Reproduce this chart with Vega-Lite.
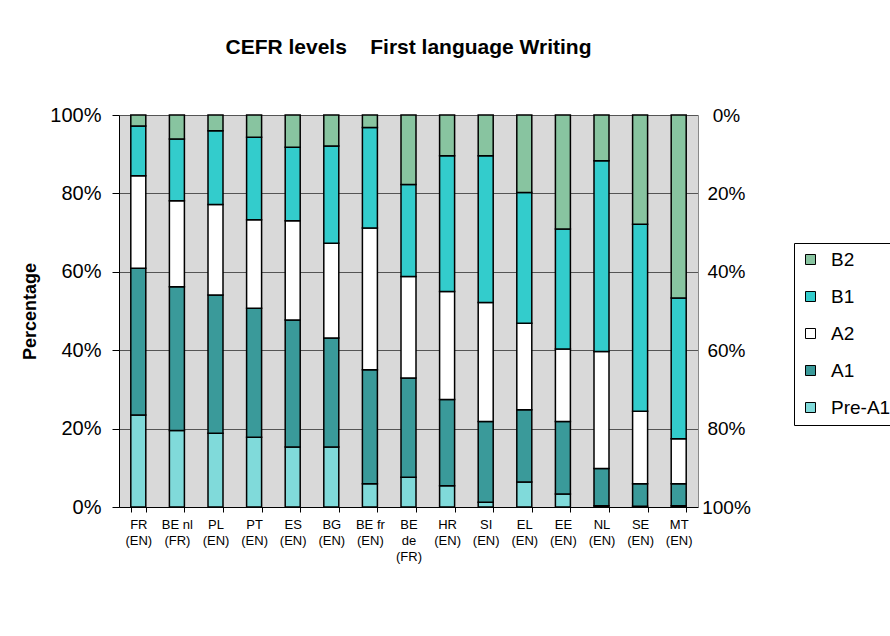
{
  "$schema": "https://vega.github.io/schema/vega-lite/v6.json",
  "autosize": {"type": "none"},
  "width": 579,
  "height": 392,
  "padding": {"left": 119, "top": 115, "right": 192, "bottom": 129},
  "background": "white",
  "config": {
    "view": {"fill": "#d9d9d9", "stroke": null},
    "font": "Liberation Sans"
  },
  "title": {
    "text": "CEFR levels\u00a0\u00a0\u00a0\u00a0First language Writing",
    "fontSize": 21,
    "fontWeight": "bold",
    "font": "Liberation Sans",
    "color": "black",
    "anchor": "middle",
    "baseline": "alphabetic",
    "offset": 30
  },
  "data": {
    "values": [
      {"c": "FR (EN)", "level": "Pre-A1", "v": 23.5},
      {"c": "FR (EN)", "level": "A1", "v": 37.4},
      {"c": "FR (EN)", "level": "A2", "v": 23.6},
      {"c": "FR (EN)", "level": "B1", "v": 12.7},
      {"c": "FR (EN)", "level": "B2", "v": 2.8},
      {"c": "BE nl (FR)", "level": "Pre-A1", "v": 19.5},
      {"c": "BE nl (FR)", "level": "A1", "v": 36.7},
      {"c": "BE nl (FR)", "level": "A2", "v": 21.9},
      {"c": "BE nl (FR)", "level": "B1", "v": 15.8},
      {"c": "BE nl (FR)", "level": "B2", "v": 6.1},
      {"c": "PL (EN)", "level": "Pre-A1", "v": 18.8},
      {"c": "PL (EN)", "level": "A1", "v": 35.3},
      {"c": "PL (EN)", "level": "A2", "v": 23.1},
      {"c": "PL (EN)", "level": "B1", "v": 18.8},
      {"c": "PL (EN)", "level": "B2", "v": 4.0},
      {"c": "PT (EN)", "level": "Pre-A1", "v": 17.8},
      {"c": "PT (EN)", "level": "A1", "v": 32.9},
      {"c": "PT (EN)", "level": "A2", "v": 22.6},
      {"c": "PT (EN)", "level": "B1", "v": 21.0},
      {"c": "PT (EN)", "level": "B2", "v": 5.7},
      {"c": "ES (EN)", "level": "Pre-A1", "v": 15.3},
      {"c": "ES (EN)", "level": "A1", "v": 32.4},
      {"c": "ES (EN)", "level": "A2", "v": 25.3},
      {"c": "ES (EN)", "level": "B1", "v": 18.8},
      {"c": "ES (EN)", "level": "B2", "v": 8.2},
      {"c": "BG (EN)", "level": "Pre-A1", "v": 15.3},
      {"c": "BG (EN)", "level": "A1", "v": 27.8},
      {"c": "BG (EN)", "level": "A2", "v": 24.2},
      {"c": "BG (EN)", "level": "B1", "v": 24.8},
      {"c": "BG (EN)", "level": "B2", "v": 7.9},
      {"c": "BE fr (EN)", "level": "Pre-A1", "v": 5.9},
      {"c": "BE fr (EN)", "level": "A1", "v": 29.1},
      {"c": "BE fr (EN)", "level": "A2", "v": 36.2},
      {"c": "BE fr (EN)", "level": "B1", "v": 25.6},
      {"c": "BE fr (EN)", "level": "B2", "v": 3.2},
      {"c": "BE de (FR)", "level": "Pre-A1", "v": 7.6},
      {"c": "BE de (FR)", "level": "A1", "v": 25.3},
      {"c": "BE de (FR)", "level": "A2", "v": 25.9},
      {"c": "BE de (FR)", "level": "B1", "v": 23.5},
      {"c": "BE de (FR)", "level": "B2", "v": 17.7},
      {"c": "HR (EN)", "level": "Pre-A1", "v": 5.4},
      {"c": "HR (EN)", "level": "A1", "v": 22.0},
      {"c": "HR (EN)", "level": "A2", "v": 27.6},
      {"c": "HR (EN)", "level": "B1", "v": 34.6},
      {"c": "HR (EN)", "level": "B2", "v": 10.4},
      {"c": "SI (EN)", "level": "Pre-A1", "v": 1.2},
      {"c": "SI (EN)", "level": "A1", "v": 20.6},
      {"c": "SI (EN)", "level": "A2", "v": 30.4},
      {"c": "SI (EN)", "level": "B1", "v": 37.4},
      {"c": "SI (EN)", "level": "B2", "v": 10.4},
      {"c": "EL (EN)", "level": "Pre-A1", "v": 6.4},
      {"c": "EL (EN)", "level": "A1", "v": 18.4},
      {"c": "EL (EN)", "level": "A2", "v": 22.1},
      {"c": "EL (EN)", "level": "B1", "v": 33.3},
      {"c": "EL (EN)", "level": "B2", "v": 19.8},
      {"c": "EE (EN)", "level": "Pre-A1", "v": 3.3},
      {"c": "EE (EN)", "level": "A1", "v": 18.5},
      {"c": "EE (EN)", "level": "A2", "v": 18.5},
      {"c": "EE (EN)", "level": "B1", "v": 30.6},
      {"c": "EE (EN)", "level": "B2", "v": 29.1},
      {"c": "NL (EN)", "level": "Pre-A1", "v": 0.3},
      {"c": "NL (EN)", "level": "A1", "v": 9.5},
      {"c": "NL (EN)", "level": "A2", "v": 29.9},
      {"c": "NL (EN)", "level": "B1", "v": 48.6},
      {"c": "NL (EN)", "level": "B2", "v": 11.7},
      {"c": "SE (EN)", "level": "Pre-A1", "v": 0.2},
      {"c": "SE (EN)", "level": "A1", "v": 5.7},
      {"c": "SE (EN)", "level": "A2", "v": 18.5},
      {"c": "SE (EN)", "level": "B1", "v": 47.7},
      {"c": "SE (EN)", "level": "B2", "v": 27.9},
      {"c": "MT (EN)", "level": "Pre-A1", "v": 0.3},
      {"c": "MT (EN)", "level": "A1", "v": 5.6},
      {"c": "MT (EN)", "level": "A2", "v": 11.5},
      {"c": "MT (EN)", "level": "B1", "v": 35.9},
      {"c": "MT (EN)", "level": "B2", "v": 46.7}
    ]
  },
  "layer": [
    {
      "transform": [
        {"calculate": "indexof(['Pre-A1','A1','A2','B1','B2'], datum.level)", "as": "ord"}
      ],
      "mark": {"type": "bar", "stroke": "black", "strokeWidth": 1.5, "width": 15},
      "encoding": {
        "x": {
          "field": "c",
          "type": "nominal",
          "sort": null,
          "scale": {"paddingInner": 0.61, "paddingOuter": 0.305},
          "axis": {
            "title": null,
            "labelAngle": 0,
            "labelExpr": "datum.label == 'BE de (FR)' ? ['BE', 'de', '(FR)'] : split(replace(datum.label, ' (', '|('), '|')",
            "labelFont": "Liberation Sans",
            "labelFontSize": 13,
            "labelColor": "black",
            "labelLineHeight": 16,
            "labelBaseline": "top",
            "labelPadding": 6,
            "tickBand": "extent",
            "tickSize": 5,
            "tickColor": "black",
            "domainColor": "black",
            "grid": false
          }
        },
        "y": {
          "field": "v",
          "type": "quantitative",
          "stack": "zero",
          "scale": {"domain": [0, 100], "nice": false},
          "axis": {
            "title": "Percentage",
            "titleFont": "Liberation Sans",
            "titleFontSize": 18,
            "titleFontWeight": "bold",
            "titleColor": "black",
            "titlePadding": 10,
            "values": [0, 20, 40, 60, 80, 100],
            "labelExpr": "datum.value + '%'",
            "labelFont": "Liberation Sans",
            "labelFontSize": 20,
            "labelColor": "black",
            "labelPadding": 11,
            "tickSize": 7,
            "tickColor": "black",
            "domainColor": "black",
            "grid": true,
            "gridColor": "#555555",
            "gridWidth": 1
          }
        },
        "color": {
          "field": "level",
          "type": "nominal",
          "scale": {
            "domain": ["B2", "B1", "A2", "A1", "Pre-A1"],
            "range": ["#88c4a0", "#33cccc", "#ffffff", "#3a9a9a", "#80dada"]
          },
          "legend": {
            "title": null,
            "orient": "none",
            "legendX": 675,
            "legendY": 128,
            "direction": "vertical",
            "symbolType": "square",
            "symbolSize": 100,
            "symbolStrokeColor": "black",
            "symbolStrokeWidth": 1,
            "symbolOpacity": 1,
            "labelFont": "Liberation Sans",
            "labelFontSize": 19,
            "labelColor": "black",
            "labelOffset": 11,
            "rowPadding": 17,
            "padding": 7,
            "strokeColor": "black",
            "fillColor": "white"
          }
        },
        "order": {"field": "ord", "type": "quantitative"}
      }
    },
    {
      "mark": {"type": "rule", "opacity": 0},
      "encoding": {
        "y": {
          "datum": 0,
          "type": "quantitative",
          "scale": {"domain": [0, 100], "reverse": true, "nice": false},
          "axis": {
            "orient": "right",
            "title": null,
            "values": [0, 20, 40, 60, 80, 100],
            "labelExpr": "datum.value + '%'",
            "labelFont": "Liberation Sans",
            "labelFontSize": 19,
            "labelColor": "black",
            "labelAlign": "center",
            "labelPadding": 28,
            "ticks": false,
            "tickSize": 0,
            "domain": true,
            "domainColor": "#888888",
            "grid": false
          }
        }
      }
    }
  ],
  "resolve": {"scale": {"y": "independent"}}
}
